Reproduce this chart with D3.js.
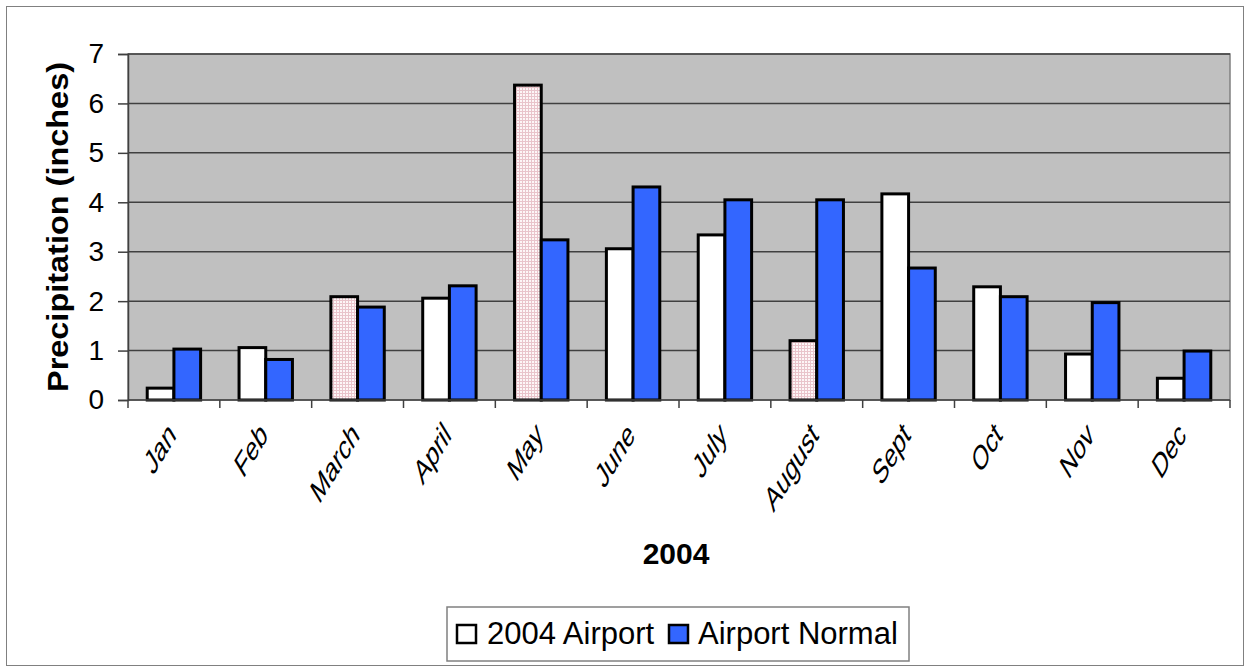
<!DOCTYPE html>
<html><head><meta charset="utf-8">
<script src="https://cdn.jsdelivr.net/npm/d3@7"></script>
<style>body{margin:0;background:#fff}svg{display:block}text{font-family:"Liberation Sans",Arial,sans-serif}</style>
</head><body><svg id="c" width="1249" height="667"></svg>
<script>
const months = ["Jan","Feb","March","April","May","June","July","August","Sept","Oct","Nov","Dec"];
const airport2004 = [0.24,1.06,2.09,2.06,6.37,3.06,3.34,1.20,4.17,2.29,0.93,0.44];
const airportNormal = [1.03,0.82,1.88,2.31,3.24,4.31,4.05,4.05,2.67,2.09,1.97,0.99];
const highlighted = ["March","May","August"];
const yTicks = [0,1,2,3,4,5,6,7];
const seriesNames = ["2004 Airport","Airport Normal"];

const svg = d3.select("#c");
const L=128,R=1230,T=54,B=400;

svg.append("rect").attr("x",6.5).attr("y",6.5).attr("width",1237).attr("height",659)
  .attr("fill","#fff").attr("stroke","#808080").attr("stroke-width",1);

const defs = svg.append("defs");
const pat = defs.append("pattern").attr("id","dots").attr("patternUnits","userSpaceOnUse")
  .attr("width",3).attr("height",3);
pat.append("rect").attr("width",3).attr("height",3).attr("fill","#fdf6f7");
pat.append("rect").attr("width",3).attr("height",1).attr("fill","#e9c4cb");
pat.append("rect").attr("width",1).attr("height",3).attr("fill","#e9c4cb");

const x = d3.scaleBand().domain(months).range([L,R]);
const x1 = d3.scaleBand().domain(seriesNames).range([0,x.bandwidth()]).paddingOuter(0.72);
const y = d3.scaleLinear().domain([0,7]).range([B,T]);

svg.append("rect").attr("x",L).attr("y",T).attr("width",R-L).attr("height",B-T)
  .attr("fill","#c0c0c0").attr("stroke","#808080").attr("stroke-width",1.5);

svg.append("g").selectAll("line").data(yTicks.filter(d=>d>0)).join("line")
  .attr("x1",L).attr("x2",R).attr("y1",d=>y(d)).attr("y2",d=>y(d))
  .attr("stroke","#404040").attr("stroke-width",1.5);

const data = months.map((m,i)=>({m, vals:[airport2004[i],airportNormal[i]]}));
const g = svg.append("g");
data.forEach(d=>{
  seriesNames.forEach((s,j)=>{
    const v = d.vals[j];
    let fill = j===1 ? "#3366ff" : (highlighted.includes(d.m) ? "url(#dots)" : "#ffffff");
    g.append("rect").attr("x",x(d.m)+x1(s)).attr("y",y(v)).attr("width",x1.bandwidth())
      .attr("height",y(0)-y(v)).attr("fill",fill).attr("stroke","#000").attr("stroke-width",3);
  });
});

// y axis
const yAxis = d3.axisLeft(y).tickValues(yTicks).tickFormat(d3.format("d")).tickSize(10).tickPadding(14);
const ya = svg.append("g").attr("transform",`translate(${L},0)`).call(yAxis);
ya.select(".domain").attr("stroke","#404040").attr("stroke-width",1.5);
ya.selectAll(".tick line").attr("stroke","#404040").attr("stroke-width",1.5);
ya.selectAll(".tick text").attr("font-size",28).attr("fill","#000").attr("font-family","Liberation Sans, Arial, sans-serif");

// x axis
const xa = svg.append("g").attr("transform",`translate(0,${B})`);
xa.append("line").attr("x1",L).attr("x2",R).attr("stroke","#404040").attr("stroke-width",1.5);
const bounds = months.map(m=>x(m)).concat([R]);
xa.selectAll("line.t").data(bounds).join("line").attr("class","t")
  .attr("x1",d=>d).attr("x2",d=>d).attr("y1",0).attr("y2",8).attr("stroke","#404040").attr("stroke-width",1.5);
xa.selectAll("text").data(months).join("text")
  .attr("transform",d=>`translate(${x(d)+x.bandwidth()/2+3},37) scale(1,1.65) rotate(-45)`)
  .attr("text-anchor","end").attr("font-size",21).attr("fill","#000").text(d=>d);

// titles
svg.append("text").attr("transform",`translate(68,227) rotate(-90)`).attr("text-anchor","middle")
  .attr("font-size",29).attr("font-weight","bold")
  .attr("textLength",330).attr("lengthAdjust","spacingAndGlyphs").text("Precipitation (inches)");
svg.append("text").attr("x",676).attr("y",564).attr("text-anchor","middle")
  .attr("font-size",30).attr("font-weight","bold").text("2004");

// legend
const lg = svg.append("g");
lg.append("rect").attr("x",447).attr("y",607).attr("width",462).attr("height",54)
  .attr("fill","#fff").attr("stroke","#808080").attr("stroke-width",1.5);
const items=[{n:seriesNames[0],f:"#fff",sx:457,tx:487},{n:seriesNames[1],f:"#3366ff",sx:669,tx:698}];
items.forEach(it=>{
  lg.append("rect").attr("x",it.sx).attr("y",625).attr("width",19).attr("height",18)
    .attr("fill",it.f).attr("stroke","#000").attr("stroke-width",2.5);
  lg.append("text").attr("x",it.tx).attr("y",644).attr("font-size",31).attr("fill","#000").text(it.n);
});
</script></body></html>
